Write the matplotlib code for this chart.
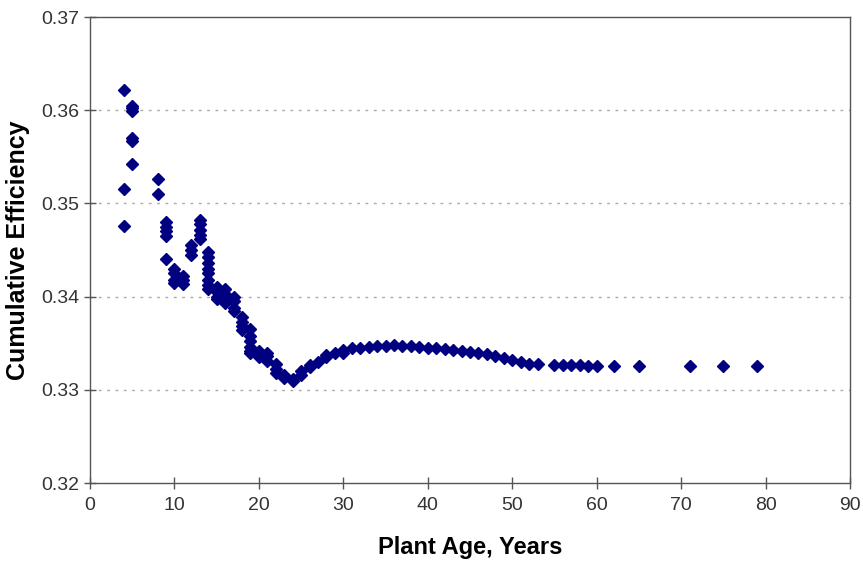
import matplotlib
matplotlib.use("Agg")
import matplotlib.pyplot as plt

# Plant age (years) and cumulative efficiency for each observation
age = [
    4, 4, 4,
    5, 5, 5, 5, 5, 5,
    8, 8,
    9, 9, 9, 9, 9,
    10, 10, 10, 10,
    11, 11, 11,
    12, 12, 12,
    13, 13, 13, 13, 13,
    14, 14, 14, 14, 14, 14, 14, 14,
    15, 15, 15, 15,
    16, 16, 16, 16, 16,
    17, 17, 17, 17,
    18, 18, 18, 18,
    19, 19, 19, 19, 19, 19,
    20, 20, 20,
    21, 21, 21,
    22, 22, 22,
    23, 23,
    24, 24,
    25, 25,
    26, 26,
    27, 28, 28, 29, 30, 30,
    31, 32, 33, 34, 35, 36, 37, 38, 39, 40,
    41, 42, 43, 44, 45, 46, 47, 48, 49, 50,
    51, 52, 53,
    55, 56, 57, 58, 59, 60,
    62, 65, 71, 75, 79,
]
efficiency = [
    0.3622, 0.3516, 0.3476,
    0.3605, 0.3602, 0.3599, 0.3570, 0.3567, 0.3542,
    0.3526, 0.3510,
    0.3480, 0.3475, 0.3470, 0.3465, 0.3440,
    0.3430, 0.3425, 0.3418, 0.3415,
    0.3422, 0.3418, 0.3414,
    0.3455, 0.3450, 0.3445,
    0.3482, 0.3478, 0.3472, 0.3466, 0.3462,
    0.3448, 0.3442, 0.3436, 0.3430, 0.3425, 0.3418, 0.3412, 0.3408,
    0.3410, 0.3405, 0.3400, 0.3397,
    0.3408, 0.3403, 0.3400, 0.3396, 0.3393,
    0.3400, 0.3395, 0.3388, 0.3385,
    0.3378, 0.3373, 0.3368, 0.3364,
    0.3365, 0.3358, 0.3352, 0.3346, 0.3342, 0.3340,
    0.3342, 0.3338, 0.3335,
    0.3340, 0.3336, 0.3331,
    0.3328, 0.3322, 0.3318,
    0.3316, 0.3313,
    0.3310, 0.3312,
    0.3316, 0.3320,
    0.3324, 0.3327,
    0.3330, 0.3335, 0.3337, 0.3339, 0.3340, 0.3343,
    0.3345, 0.3345, 0.3346, 0.3347, 0.3347, 0.3348, 0.3347, 0.3347, 0.3346, 0.3345,
    0.3345, 0.3344, 0.3343, 0.3342, 0.3341, 0.3340, 0.3338, 0.3336, 0.3334, 0.3332,
    0.3330, 0.3328, 0.3328,
    0.3327, 0.3327, 0.3327, 0.3327, 0.3326, 0.3326,
    0.3326, 0.3326, 0.3326, 0.3326, 0.3326,
]

x_ticks = [0, 10, 20, 30, 40, 50, 60, 70, 80, 90]
y_ticks = [0.32, 0.33, 0.34, 0.35, 0.36, 0.37]

plt.rcParams['font.family'] = ['Liberation Sans', 'DejaVu Sans']

fig = plt.figure(figsize=(8.63, 5.69), dpi=100)
ax = fig.add_axes([0.1043, 0.1511, 0.8807, 0.8190])

ax.plot(age, efficiency, linestyle='none', marker='D', markersize=6.2,
        color='#000080', markeredgecolor='#000080')

ax.set_xlim(0, 90)
ax.set_ylim(0.32, 0.37)
ax.set_xticks(x_ticks)
ax.set_yticks(y_ticks)
ax.set_xticklabels([str(t) for t in x_ticks])
ax.set_yticklabels([f"{t:.2f}" for t in y_ticks])

for y in y_ticks[1:-1]:
    ax.axhline(y, color='#aaaaaa', linestyle=(0, (2, 4)), linewidth=1.0, zorder=0)

for s in ax.spines.values():
    s.set_color('#555555')
    s.set_linewidth(1.0)

ax.tick_params(axis='both', direction='inout', length=8, width=1.0,
               color='#555555', labelsize=14, labelcolor='#333333')
ax.tick_params(axis='x', pad=6)
ax.tick_params(axis='y', pad=4)

ax.set_xlabel('Plant Age, Years', fontsize=17, fontweight='bold', labelpad=16)
ax.set_ylabel('Cumulative Efficiency', fontsize=18, fontweight='bold', labelpad=8)

fig.savefig('out.png', dpi=100, facecolor='white')
